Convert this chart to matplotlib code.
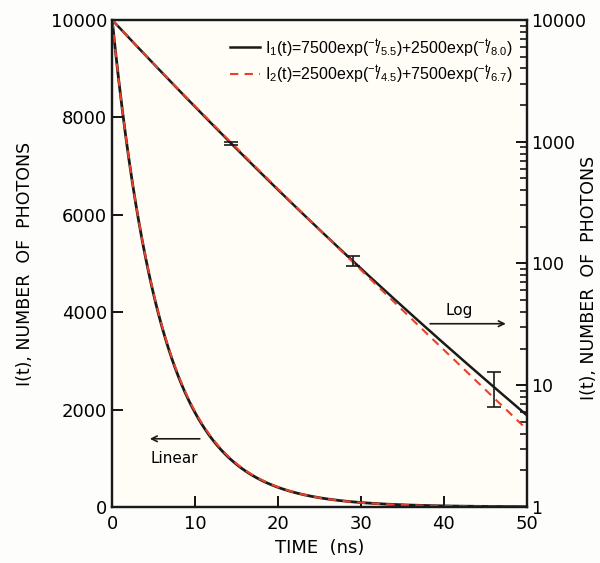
import numpy as np
import matplotlib.pyplot as plt

# model parameters
amp1 = [7500, 2500]
tau1 = [5.5, 8.0]
amp2 = [2500, 7500]
tau2 = [4.5, 6.7]

# error bars on the log curve (t, counts, +/- sqrt(N))
err_t = [14.3, 29.0, 46.0]
err_y = [970, 105, 9.7]
err_e = [31, 10.3, 3.1]

t = np.linspace(0, 50, 501)
I1 = amp1[0] * np.exp(-t / tau1[0]) + amp1[1] * np.exp(-t / tau1[1])
I2 = amp2[0] * np.exp(-t / tau2[0]) + amp2[1] * np.exp(-t / tau2[1])

plt.rcParams['mathtext.fontset'] = 'custom'
plt.rcParams['mathtext.rm'] = 'Liberation Sans'
plt.rcParams['mathtext.it'] = 'Liberation Sans'
plt.rcParams['mathtext.default'] = 'regular'

black = '#1a1a1a'
red = '#e8402a'

fig = plt.figure(figsize=(6, 5.63), dpi=100)
fig.patch.set_facecolor('#fdfdfb')
ax = fig.add_axes([0.187, 0.0995, 0.691, 0.865])
ax.set_facecolor('#fffdf6')
ax2 = ax.twinx()

# linear curves
ax.plot(t, I1, color=black, lw=2.0)
ax.plot(t, I2, color=red, lw=1.5, dashes=(4, 3))

# log curves
l1, = ax2.plot(t, I1, color=black, lw=1.8)
l2, = ax2.plot(t, I2, color=red, lw=1.5, dashes=(4, 3))
ax2.errorbar(err_t, err_y, yerr=err_e, fmt='none', ecolor=black,
             elinewidth=1.2, capsize=5, capthick=1.2)

ax.set_xlim(0, 50)
ax.set_ylim(0, 10000)
ax2.set_yscale('log')
ax2.set_ylim(1, 10000)

ax.set_xticks([0, 10, 20, 30, 40, 50])
ax.set_yticks([0, 2000, 4000, 6000, 8000, 10000])
ax2.set_yticks([1, 10, 100, 1000, 10000])
ax2.set_yticklabels(['1', '10', '100', '1000', '10000'])

ax.tick_params(axis='both', direction='in', length=8, width=1.3, labelsize=13)
ax.tick_params(axis='x', pad=6)
ax2.tick_params(axis='y', which='major', direction='in', length=8, width=1.3,
                labelsize=12.5, pad=3)
ax2.tick_params(axis='y', which='minor', direction='in', length=5, width=1.1)

for a in (ax, ax2):
    for s in a.spines.values():
        s.set_linewidth(1.6)
        s.set_color(black)

ax.set_xlabel('TIME  (ns)', fontsize=13)
ax.set_ylabel('I(t), NUMBER  OF  PHOTONS', fontsize=12.5, labelpad=12)
ax2.set_ylabel('I(t), NUMBER  OF  PHOTONS', fontsize=12.5)
ax2.yaxis.set_label_coords(1.128, 0.47)

leg = ax2.legend([l1, l2],
                 [r'I$_1$(t)=7500exp($^{-t}\!/_{5.5}$)+2500exp($^{-t}\!/_{8.0}$)',
                  r'I$_2$(t)=2500exp($^{-t}\!/_{4.5}$)+7500exp($^{-t}\!/_{6.7}$)'],
                 loc='upper right', bbox_to_anchor=(1.0, 0.995), frameon=False,
                 prop={'family': 'Liberation Sans', 'size': 11.5},
                 handlelength=1.9, handletextpad=0.3, labelspacing=0.35)

# arrows
ax2.annotate('', xy=(47.8, 32), xytext=(38.0, 32),
             arrowprops=dict(arrowstyle='->', color=black, lw=1.2))
ax2.text(41.8, 36, 'Log', fontsize=11, ha='center', va='bottom')
ax.annotate('', xy=(4.2, 1400), xytext=(10.9, 1400),
            arrowprops=dict(arrowstyle='->', color=black, lw=1.2))
ax.text(7.5, 1150, 'Linear', fontsize=11, ha='center', va='top')

fig.savefig('out.png', dpi=100, facecolor=fig.get_facecolor())
